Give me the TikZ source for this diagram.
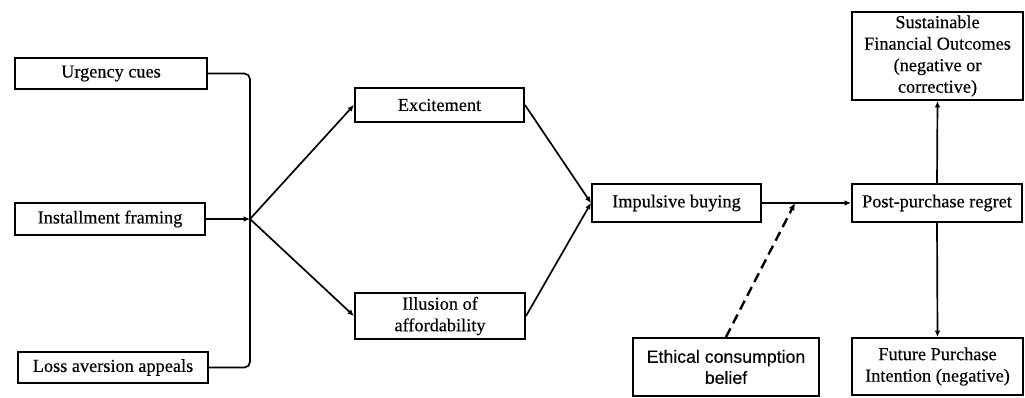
\documentclass[tikz,border=0pt]{standalone}
\usepackage{fontspec}
\setmainfont{Liberation Serif}[FakeBold=0.3]
\newfontfamily\ethicfont{Liberation Sans}[FakeBold=0.3]
\usetikzlibrary{arrows.meta,positioning}
\tikzset{every node/.append style={align=center}}

\begin{document}
\begin{tikzpicture}[
    x=0.025cm, y=-0.025cm,
    factor/.style={draw, line width=1.4pt, inner xsep=2pt, inner ysep=1pt, font=\fontsize{13}{15.3}\selectfont},
    arrow/.style={-{Latex[length=4.5pt,width=4pt]}, line width=1.2pt},
    link/.style={line width=1.2pt, rounded corners=4pt},
    modarrow/.style={-{Latex[length=5pt,width=4.5pt]}, line width=1.7pt, dash pattern=on 7pt off 4pt}
]
    \useasboundingbox (0,0) rectangle (1025,397);

    % Marketing cues
    \node[factor, minimum width=4.8cm, minimum height=0.78cm] (urgency) at (111,73.5) {Urgency cues};
    \node[factor, minimum width=4.75cm, minimum height=0.8cm] (installment) at (110,219) {Installment framing};
    \node[factor, minimum width=4.75cm, minimum height=0.78cm] (lossaversion) at (113,367.5) {Loss aversion appeals};
    \coordinate (junction) at (250,219);

    % Emotional / cognitive states
    \node[factor, minimum width=4.225cm, minimum height=0.85cm] (excitement) at (439.5,105) {Excitement};
    \node[factor, minimum width=4.25cm, minimum height=1.15cm] (illusion) at (440,316) {Illusion of\\affordability};

    % Behaviour and outcomes
    \node[factor, minimum width=4.225cm, minimum height=0.95cm] (impulsive) at (676.5,203) {Impulsive buying};
    \node[factor, minimum width=4.25cm, minimum height=0.95cm] (regret) at (937,203) {Post-purchase regret};
    \node[factor, minimum width=4.275cm, minimum height=2.2cm] (outcomes) at (937.5,56) {Sustainable\\Financial Outcomes\\(negative or\\corrective)};
    \node[factor, minimum width=4.275cm, minimum height=1.425cm] (intention) at (937.5,366.5) {Future Purchase\\Intention (negative)};
    \node[factor, font=\ethicfont\fontsize{12.6}{15}\selectfont, minimum width=4.65cm, minimum height=1.45cm] (ethical) at (726,367) {Ethical consumption\\belief};
    \coordinate (moderation) at (795,203);

    % Connectors
    \draw[link] (urgency.east) -| (junction) |- (lossaversion.east);
    \draw[arrow] (installment.east) -- (junction);
    \draw[arrow] (junction) -- (excitement.west);
    \draw[arrow] (junction) -- (illusion.west);
    \draw[arrow] (excitement.east) -- (impulsive.west);
    \draw[arrow] (illusion.east) -- (impulsive.west);
    \draw[arrow] (impulsive.east) -- (regret.west);
    \draw[arrow] (regret.north) -- (outcomes.south);
    \draw[arrow] (regret.south) -- (intention.north);

    % Moderator
    \draw[modarrow] (ethical.north) -- (moderation);
\end{tikzpicture}
\end{document}
